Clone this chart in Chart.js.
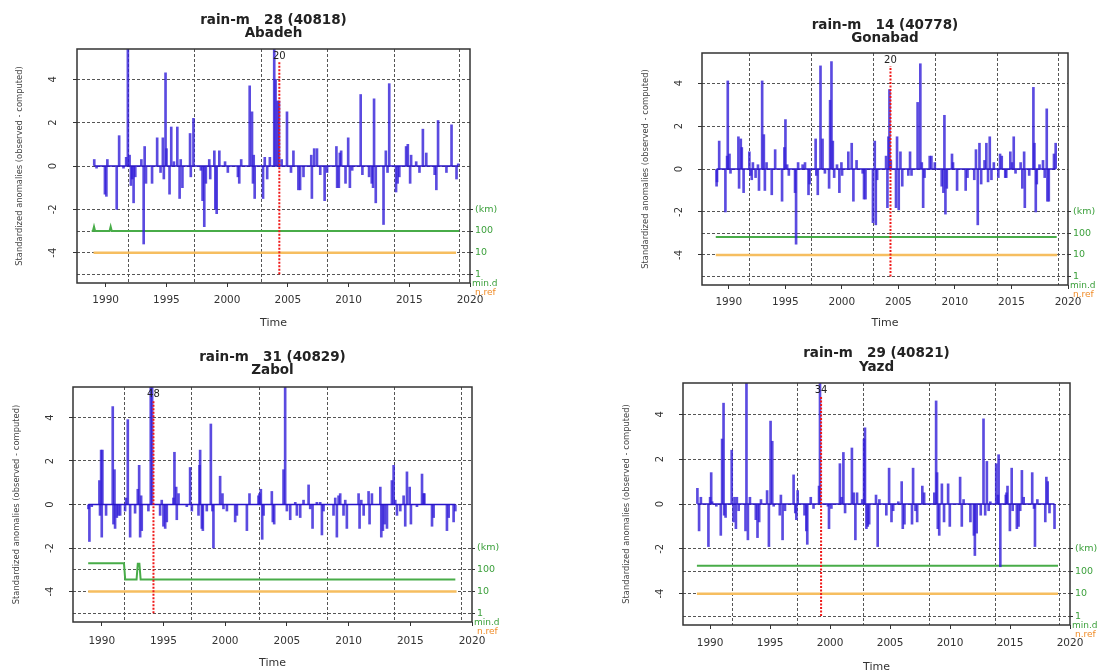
<!DOCTYPE html>
<html><head><meta charset="utf-8">
<script src="https://cdn.jsdelivr.net/npm/chart.js@4.4.1/dist/chart.umd.min.js"></script>
<style>
html,body{margin:0;padding:0;background:#fff;}
body{width:1099px;height:671px;position:relative;overflow:hidden;}
canvas{position:absolute;}
</style></head><body>
<canvas id="c1" width="540" height="335" style="left:0;top:0"></canvas>
<canvas id="c2" width="539" height="335" style="left:560px;top:0"></canvas>
<canvas id="c3" width="540" height="336" style="left:0;top:335px"></canvas>
<canvas id="c4" width="539" height="336" style="left:560px;top:335px"></canvas>
<script>
// ---- tick labels / axis values ----
const yearTicks = [1990,1995,2000,2005,2010,2015,2020];
const yTicks = [-4,-2,0,2,4];
const kmTicks = [-2,-3,-4,-5];
const kmLabels = ['(km)','100','10','1'];
const gridYears = [1991.85,1997.3,2002.8,2008.3,2013.75,2019.15];
const yTitle = 'Standardized anomalies (observed - computed)';

// ---- Abadeh ----
const abadehT = [1989.06,1989.25,1989.94,1990.06,1990.14,1990.91,1991.11,1991.47,1991.69,1991.83,1991.97,1992.08,1992.19,1992.30,1992.44,1992.94,1993.13,1993.21,1993.32,1993.82,1994.24,1994.52,1994.71,1994.79,1994.93,1995.01,1995.26,1995.40,1995.62,1995.90,1996.09,1996.18,1996.32,1996.95,1997.01,1997.23,1997.84,1997.98,1998.12,1998.25,1998.53,1998.61,1998.95,1999.03,1999.14,1999.36,1999.83,2000.06,2000.89,2001.00,2001.16,2001.86,2002.05,2002.13,2002.19,2002.27,2002.96,2003.10,2003.30,2003.52,2003.88,2003.99,2004.16,2004.27,2004.49,2004.93,2005.26,2005.46,2005.87,2006.01,2006.29,2006.93,2006.98,2007.17,2007.40,2007.67,2008.03,2008.23,2009.00,2009.06,2009.20,2009.28,2009.39,2009.75,2009.97,2010.11,2010.30,2011.00,2011.14,2011.69,2011.91,2012.02,2012.10,2012.24,2012.88,2013.07,2013.21,2013.35,2013.91,2014.04,2014.18,2014.74,2014.88,2015.07,2015.15,2015.57,2015.84,2016.12,2016.40,2017.09,2017.23,2017.37,2018.06,2018.48,2018.89,2019.03];
const abadehV = [0.3,-0.1,-1.3,-1.4,0.3,-2.0,1.4,-0.1,0.4,5.8,0.5,-0.9,-0.6,-1.7,-0.5,0.3,-3.6,0.9,-0.8,-0.8,1.3,-0.3,1.3,-0.6,4.3,0.8,-1.3,1.8,0.2,1.8,-1.5,0.3,-1.0,1.5,-0.5,2.2,-0.2,-1.6,-2.8,-0.8,0.3,-0.6,0.7,-2.0,-2.2,0.7,0.2,-0.3,-0.5,-0.8,0.3,3.7,2.5,-0.8,0.5,-1.5,-1.5,0.4,-0.6,0.4,5.8,4.0,3.0,3.0,0.3,2.5,-0.3,0.7,-1.1,-1.1,-0.5,0.5,-1.5,0.8,0.8,-0.4,-1.6,-0.3,0.9,-1.0,-1.0,0.6,0.7,-0.8,1.3,-1.0,-0.2,3.3,-0.4,-0.5,-0.8,-1.0,3.1,-1.7,-2.7,0.7,-0.3,3.8,-1.2,-0.8,-0.5,0.9,1.0,-0.8,0.5,0.2,-0.3,1.7,0.6,-0.4,-1.1,2.1,-0.3,1.9,-0.6,0.1];
const abadehMinDT = [1988.85,1988.95,1989.04,1989.13,1990.32,1990.41,1990.5,2019.1];
const abadehMinDV = [-3,-3,-2.8,-3,-3,-2.8,-3,-3];
const abadehNrefT = [1989.0,2018.85];
const abadehNrefV = [-4,-4];

// ---- Gonabad ----
const gonabadT = [1988.92,1988.96,1989.15,1989.70,1989.85,1989.91,1990.06,1990.15,1990.85,1990.91,1991.06,1991.15,1991.31,1991.82,1991.91,1992.03,1992.13,1992.37,1992.58,1992.67,1992.95,1993.10,1993.19,1993.34,1993.80,1994.10,1994.71,1994.92,1995.01,1995.16,1995.31,1995.86,1995.95,1996.13,1996.53,1996.74,1997.05,1997.14,1997.68,1997.74,1997.87,1998.11,1998.29,1998.50,1998.87,1998.96,1999.08,1999.20,1999.32,1999.57,1999.78,1999.96,2000.02,2000.57,2000.87,2001.02,2001.30,2001.84,2001.96,2002.09,2002.75,2002.91,2003.00,2003.12,2003.91,2004.03,2004.12,2004.21,2004.33,2004.79,2004.88,2005.03,2005.18,2005.34,2005.88,2006.03,2006.16,2006.70,2006.94,2007.07,2007.19,2007.31,2007.77,2007.92,2008.22,2008.83,2008.98,2009.07,2009.16,2009.28,2009.74,2009.83,2010.19,2010.95,2011.11,2011.71,2011.86,2012.02,2012.17,2012.32,2012.62,2012.78,2012.93,2013.08,2013.23,2013.44,2013.84,2013.99,2014.14,2014.45,2014.54,2014.90,2015.05,2015.20,2015.36,2015.81,2015.96,2016.12,2016.18,2016.57,2016.94,2017.03,2017.15,2017.24,2017.48,2017.79,2017.94,2018.12,2018.18,2018.30,2018.76,2018.91];
const gonabadV = [-0.8,-0.6,1.3,-2.0,0.6,4.1,0.7,-0.2,1.5,-0.9,1.4,1.0,-1.1,0.8,-0.3,-0.5,0.3,-0.4,0.2,-1.0,4.1,1.6,-1.0,0.3,-1.2,0.9,-1.5,1.0,2.3,0.2,-0.3,-1.1,-3.5,0.3,0.2,0.3,-1.2,-0.7,1.4,-0.3,-1.2,4.8,1.4,-0.2,-0.9,3.2,5.0,1.3,-0.4,0.2,-1.1,0.3,-0.3,0.8,1.2,-1.5,0.4,-0.2,-1.4,-1.4,-2.5,1.3,-2.6,-0.5,0.6,-1.8,1.5,3.7,0.4,-1.8,1.5,-1.9,0.8,-0.8,-0.3,0.8,-0.3,3.1,4.9,0.3,-1.8,-0.4,0.6,0.6,0.3,-0.8,-1.1,2.5,-2.1,-0.9,0.7,0.3,-1.0,-1.0,-0.4,-0.5,0.9,-2.6,1.2,-0.7,0.4,1.2,-0.6,1.5,-0.5,0.3,-0.4,0.7,0.6,-0.4,-0.4,0.8,0.3,1.5,-0.2,0.3,-0.9,0.8,-1.8,-0.3,3.8,1.2,-2.0,-0.7,0.2,0.4,-0.4,2.8,-1.5,-1.5,0.7,1.2];
const gonabadMinDT = [1988.85,2019.0];
const gonabadMinDV = [-3.17,-3.17];
const gonabadNrefT = [1988.85,2019.05];
const gonabadNrefV = [-4,-4];

// ---- Zabol ----
const zabolT = [1988.92,1989.00,1989.19,1989.81,1989.86,1989.95,1990.00,1990.05,1990.35,1990.89,1990.95,1991.03,1991.08,1991.22,1991.35,1991.49,1991.89,1991.97,1992.11,1992.30,1992.70,1992.92,1993.03,1993.11,1993.19,1993.24,1993.78,1993.97,1994.08,1994.73,1994.86,1995.00,1995.14,1995.27,1995.81,1995.89,1996.03,1996.08,1996.22,1996.89,1997.16,1997.30,1997.84,1997.92,1997.97,1998.11,1998.19,1998.51,1998.84,1998.97,1999.05,1999.59,1999.78,1999.86,2000.14,2000.81,2000.95,2001.76,2001.97,2002.70,2002.78,2002.89,2003.00,2003.11,2003.78,2003.86,2003.97,2004.73,2004.86,2005.00,2005.27,2005.68,2005.81,2006.08,2006.35,2006.76,2006.89,2007.08,2007.43,2007.70,2007.84,2007.97,2008.78,2008.92,2009.05,2009.19,2009.32,2009.59,2009.73,2009.86,2010.81,2010.89,2011.03,2011.22,2011.62,2011.70,2011.89,2012.57,2012.65,2012.78,2012.92,2013.11,2013.51,2013.65,2013.78,2013.92,2014.19,2014.46,2014.59,2014.73,2014.95,2015.05,2015.54,2015.95,2016.08,2016.14,2016.76,2016.89,2017.97,2018.11,2018.51,2018.65];
const zabolV = [-0.2,-1.7,-0.1,1.1,-0.5,2.5,-1.5,2.5,-0.5,4.5,-0.9,1.6,-1.1,-0.6,-0.5,-0.5,-0.3,0.3,3.9,-1.5,-0.4,0.7,1.8,-1.5,0.4,-1.2,-0.3,5.8,5.8,-0.5,0.2,-1.0,-1.1,-0.8,0.3,2.4,0.8,-0.7,0.5,-0.1,1.7,-0.3,-0.5,1.8,2.5,-1.1,-1.2,-0.3,3.7,-0.3,-2.0,1.3,0.5,-0.2,-0.3,-0.8,-0.5,-1.2,0.5,0.4,0.5,0.7,-1.6,-0.5,0.6,-0.8,-0.9,1.6,5.8,-0.3,-0.7,0.1,-0.5,-0.6,0.2,0.9,-0.2,-1.1,0.1,0.1,-1.4,-0.3,-0.5,0.3,-1.5,0.4,0.5,-0.5,0.2,-1.1,0.5,-1.1,0.2,-0.5,0.6,-0.9,0.5,0.8,-1.5,-1.2,-0.9,-1.1,1.1,1.8,0.2,-0.5,-0.3,0.4,-1.0,1.5,0.8,-0.9,-0.1,1.4,0.5,0.5,-1.0,-0.6,-1.2,-0.6,-0.8,-0.3];
const zabolMinDT = [1988.9,1991.8,1991.9,1992.82,1992.92,1993.05,1993.15,2018.65];
const zabolMinDV = [-2.7,-2.7,-3.45,-3.45,-2.72,-2.72,-3.45,-3.45];
const zabolNrefT = [1988.9,2018.75];
const zabolNrefV = [-4,-4];

// ---- Yazd ----
const yazdT = [1988.94,1989.08,1989.23,1989.86,1990.00,1990.09,1990.17,1990.52,1990.89,1991.00,1991.12,1991.17,1991.29,1991.80,1991.95,1992.03,1992.15,1992.23,1992.38,1992.95,1993.03,1993.15,1993.32,1993.81,1993.95,1994.09,1994.24,1994.75,1994.90,1995.04,1995.18,1995.30,1995.81,1995.90,1996.04,1996.24,1996.96,1997.10,1997.19,1997.30,1997.87,1998.02,1998.10,1998.39,1998.62,1999.08,1999.16,1999.82,1999.91,2000.11,2000.82,2000.96,2001.11,2001.25,2001.82,2001.97,2002.11,2002.25,2002.68,2002.83,2002.91,2003.03,2003.14,2003.26,2003.83,2003.97,2004.11,2004.69,2004.92,2005.12,2005.26,2005.69,2005.97,2006.06,2006.20,2006.83,2006.92,2007.12,2007.26,2007.69,2007.84,2008.69,2008.84,2008.92,2008.98,2009.10,2009.32,2009.50,2009.84,2009.98,2010.84,2010.98,2011.13,2011.70,2011.99,2012.07,2012.22,2012.56,2012.79,2012.93,2013.07,2013.22,2013.36,2013.85,2013.99,2014.05,2014.19,2014.65,2014.71,2014.79,2014.99,2015.14,2015.22,2015.57,2015.71,2015.85,2015.99,2016.14,2016.85,2017.00,2017.08,2017.28,2017.94,2018.03,2018.14,2018.29,2018.71];
const yazdV = [0.7,-1.2,0.3,-1.9,0.3,1.4,0.1,-0.1,-1.4,2.9,4.5,-0.5,-0.6,2.4,-0.8,0.3,-1.1,0.3,-0.3,-1.2,5.8,-1.6,0.3,-0.7,-1.5,-0.8,0.2,0.6,-1.9,3.7,2.8,-0.1,-0.5,0.4,-1.6,-0.3,1.3,-0.4,-0.7,0.6,-0.5,-1.2,-1.8,0.3,-0.2,0.8,5.8,-0.1,-1.1,-0.2,1.8,0.3,2.3,-0.4,2.5,0.5,-1.6,0.5,0.2,2.9,3.4,-1.1,-1.0,-0.9,0.4,-1.9,0.2,-0.5,1.6,-0.8,-0.3,0.1,1.0,-1.1,-0.9,-0.9,1.6,-0.3,-0.8,0.8,0.5,0.5,4.6,1.4,-1.1,-1.4,0.9,-0.8,0.9,-1.0,1.2,-1.0,0.2,-0.8,-1.4,-2.3,-1.3,-0.5,3.8,-0.5,1.9,-0.3,0.1,1.8,0.4,2.2,-2.8,0.4,0.5,0.8,-1.2,1.6,-0.3,-1.1,-1.0,-0.3,1.5,0.3,1.4,-0.2,-1.9,0.2,-0.8,1.2,1.0,-0.4,-1.1];
const yazdMinDT = [1988.9,2019.0];
const yazdMinDV = [-2.76,-2.76];
const yazdNrefT = [1988.9,2019.0];
const yazdNrefV = [-4,-4];

// ---- styling ----
const F = "'DejaVu Sans', sans-serif";
const BLUE = 'rgba(50,30,216,0.8)';
const GREEN = 'rgb(72,172,72)';
const GREEN_T = 'rgb(60,160,60)';
const ORANGE = 'rgb(246,190,96)';
const ORANGE_T = 'rgb(240,140,40)';
const GRID = '#555';

const pts = (T, V) => T.map((t, i) => ({x: t, y: V[i]}));

const deco = {
  id: 'deco',
  afterDatasetsDraw(chart, args, o) {
    const {ctx, scales: {x, y}} = chart;
    ctx.save();
    const bx = x.getPixelForValue(o.breakT);
    ctx.strokeStyle = '#f01818'; ctx.lineWidth = 2; ctx.setLineDash([2, 1.5]);
    ctx.beginPath(); ctx.moveTo(bx, y.getPixelForValue(-5)); ctx.lineTo(bx, y.getPixelForValue(4.8)); ctx.stroke();
    ctx.setLineDash([]);
    ctx.fillStyle = '#222'; ctx.font = '10px ' + F; ctx.textAlign = 'center'; ctx.textBaseline = 'middle';
    ctx.fillText(o.breakLabel, bx, y.getPixelForValue(5.05));
    ctx.restore();
  },
  afterDraw(chart, args, o) {
    const {ctx, chartArea: ca, scales: {y}} = chart;
    ctx.save();
    ctx.strokeStyle = '#333'; ctx.lineWidth = 1.5;
    ctx.strokeRect(ca.left, ca.top, ca.right - ca.left, ca.bottom - ca.top);
    const cx = (ca.left + ca.right) / 2;
    ctx.textAlign = 'center'; ctx.textBaseline = 'middle';
    ctx.fillStyle = '#222'; ctx.font = 'bold 13.5px ' + F;
    ctx.fillText(o.title1, cx, o.t1y);
    ctx.fillText(o.title2, cx, o.t2y);
    ctx.fillStyle = '#333'; ctx.font = '11px ' + F;
    ctx.fillText('Time', cx, o.timeY);
    ctx.save();
    ctx.translate(o.ytX, (ca.top + ca.bottom) / 2); ctx.rotate(-Math.PI / 2);
    ctx.font = '8.4px ' + F; ctx.fillStyle = '#444'; ctx.fillText(yTitle, 0, 0);
    ctx.restore();
    ctx.font = '10px ' + F; ctx.fillStyle = '#333';
    yTicks.forEach(v => {
      ctx.save(); ctx.translate(o.ytkX, y.getPixelForValue(v)); ctx.rotate(-Math.PI / 2);
      ctx.fillText(String(v), 0, 0); ctx.restore();
    });
    ctx.textAlign = 'left'; ctx.font = '9px ' + F;
    ctx.fillStyle = GREEN_T; ctx.fillText('min.d', ca.right + 2, ca.bottom + 1);
    ctx.fillStyle = ORANGE_T; ctx.fillText('n.ref', ca.right + 5, ca.bottom + 10);
    ctx.restore();
  }
};

function makeChart(id, c) {
  const gridOpts = {color: GRID, lineWidth: 1, tickLength: 4, tickColor: '#333', tickBorderDash: []};
  new Chart(document.getElementById(id), {
    type: 'bar',
    data: {datasets: [
      {type: 'line', data: pts(c.nrefT, c.nrefV), borderColor: ORANGE, borderWidth: 2.5, pointRadius: 0, order: 4},
      {type: 'line', data: pts(c.minT, c.minV), borderColor: GREEN, borderWidth: 2, pointRadius: 0, order: 3},
      {type: 'bar', data: pts(c.T, c.V), backgroundColor: BLUE, borderWidth: 0, barThickness: 2, order: 2},
      {type: 'line', data: [{x: c.T[0], y: 0}, {x: c.T[c.T.length - 1], y: 0}], borderColor: 'rgb(40,20,200)', borderWidth: 1.5, pointRadius: 0, order: 1}
    ]},
    plugins: [deco],
    options: {
      responsive: false, animation: false, events: [],
      layout: {padding: {top: c.top, left: 0, right: 0, bottom: 0}},
      plugins: {legend: {display: false}, tooltip: {enabled: false},
        deco: {breakT: c.breakT, breakLabel: c.breakLabel, title1: c.title1, title2: c.title2,
               t1y: c.t1y, t2y: c.t2y, timeY: c.timeY, ytX: c.ytX, ytkX: c.ytkX}},
      scales: {
        x: {type: 'linear', position: 'bottom', min: c.xmin, max: c.xmax, offset: false,
            afterBuildTicks: s => { s.ticks = yearTicks.map(v => ({value: v})); },
            afterFit: s => { s.height = c.xh; },
            grid: {drawOnChartArea: false, drawTicks: true, tickLength: 4, tickColor: '#333', offset: false},
            border: {display: false},
            ticks: {font: {family: F, size: 10.5}, color: '#333', padding: c.xpad, maxRotation: 0, autoSkip: false,
                    callback: v => String(v)}},
        xg: {type: 'linear', position: 'bottom', min: c.xmin, max: c.xmax, offset: false,
            afterBuildTicks: s => { s.ticks = gridYears.map(v => ({value: v})); },
            afterFit: s => { s.height = 0; },
            grid: {color: GRID, lineWidth: 1, drawTicks: false, offset: false},
            border: {display: false, dash: [3, 2]},
            ticks: {display: false}},
        y: {position: 'left', min: -5.4, max: 5.4,
            afterBuildTicks: s => { s.ticks = yTicks.map(v => ({value: v})); },
            afterFit: s => { s.width = c.yw; },
            grid: gridOpts, border: {display: false, dash: [3, 2]},
            ticks: {display: false}},
        y2: {position: 'right', min: -5.4, max: 5.4,
            afterBuildTicks: s => { s.ticks = kmTicks.map(v => ({value: v})); },
            afterFit: s => { s.width = c.y2w; },
            grid: Object.assign({}, gridOpts, {tickLength: 3}), border: {display: false, dash: [3, 2]},
            ticks: {font: {family: F, size: 9.5}, color: GREEN_T, padding: 2,
                    callback: v => kmLabels[kmTicks.indexOf(v)]}}
      }
    }
  });
}

makeChart('c1', {T: abadehT, V: abadehV, minT: abadehMinDT, minV: abadehMinDV, nrefT: abadehNrefT, nrefV: abadehNrefV,
  breakT: 2004.3, breakLabel: '20', title1: 'rain-m   28 (40818)', title2: 'Abadeh',
  top: 49, yw: 77, y2w: 70, xh: 52, xmin: 1987.64, xmax: 2020.0, xpad: 7,
  t1y: 20, t2y: 33, timeY: 323, ytX: 20, ytkX: 53});
makeChart('c2', {T: gonabadT, V: gonabadV, minT: gonabadMinDT, minV: gonabadMinDV, nrefT: gonabadNrefT, nrefV: gonabadNrefV,
  breakT: 2004.3, breakLabel: '20', title1: 'rain-m   14 (40778)', title2: 'Gonabad',
  top: 53, yw: 142, y2w: 31, xh: 50, xmin: 1987.63, xmax: 2020.0, xpad: 7,
  t1y: 25, t2y: 38, timeY: 323, ytX: 86, ytkX: 119});
makeChart('c3', {T: zabolT, V: zabolV, minT: zabolMinDT, minV: zabolMinDV, nrefT: zabolNrefT, nrefV: zabolNrefV,
  breakT: 1994.19, breakLabel: '48', title1: 'rain-m   31 (40829)', title2: 'Zabol',
  top: 52, yw: 73, y2w: 68, xh: 49, xmin: 1987.67, xmax: 2020.0, xpad: 9,
  t1y: 22, t2y: 35, timeY: 328, ytX: 17, ytkX: 50});
makeChart('c4', {T: yazdT, V: yazdV, minT: yazdMinDT, minV: yazdMinDV, nrefT: yazdNrefT, nrefV: yazdNrefV,
  breakT: 1999.25, breakLabel: '34', title1: 'rain-m   29 (40821)', title2: 'Yazd',
  top: 48, yw: 123, y2w: 29, xh: 46, xmin: 1987.74, xmax: 2020.0, xpad: 8,
  t1y: 18, t2y: 32, timeY: 332, ytX: 67, ytkX: 100});
</script>
</body></html>
